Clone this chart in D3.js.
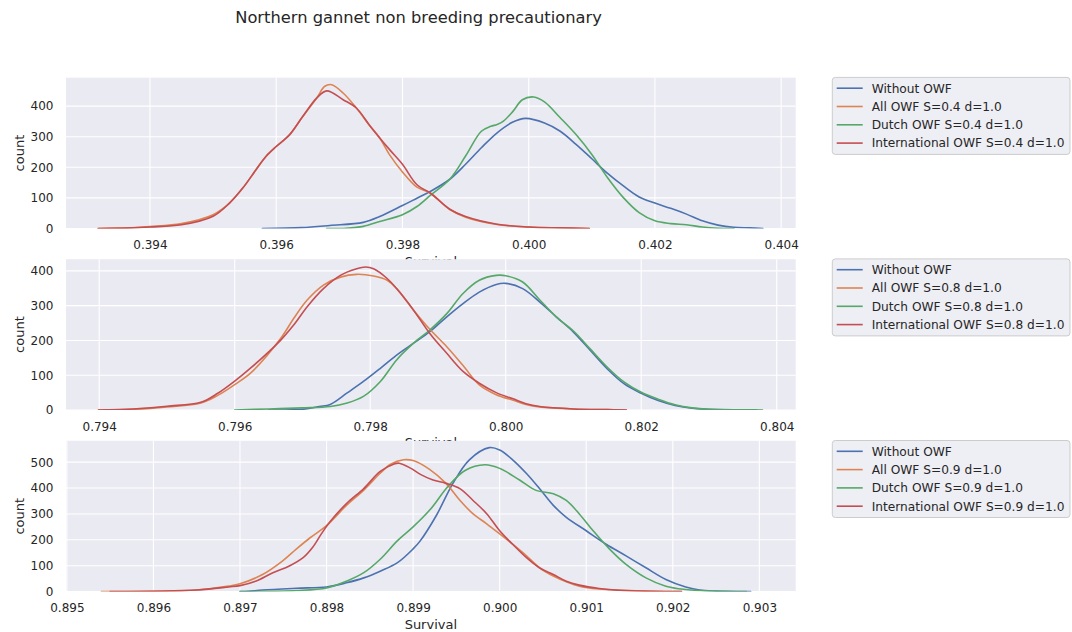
<!DOCTYPE html>
<html><head><meta charset="utf-8">
<script src="https://cdn.jsdelivr.net/npm/d3@7"></script>
<style>
body{margin:0;background:#fff}
svg{display:block}
text{font-family:"DejaVu Sans",sans-serif;fill:#262626}
</style>
</head><body><svg id="c" width="1072" height="632"></svg>
<script>
// ---------- data ----------
const chartTitle = "Northern gannet non breeding precautionary";
const seriesColors = ["#4C72B0", "#DD8452", "#55A868", "#C44E52"];
const legendLabels1 = ["Without OWF", "All OWF S=0.4 d=1.0", "Dutch OWF S=0.4 d=1.0", "International OWF S=0.4 d=1.0"];
const legendLabels2 = ["Without OWF", "All OWF S=0.8 d=1.0", "Dutch OWF S=0.8 d=1.0", "International OWF S=0.8 d=1.0"];
const legendLabels3 = ["Without OWF", "All OWF S=0.9 d=1.0", "Dutch OWF S=0.9 d=1.0", "International OWF S=0.9 d=1.0"];
const xTicks1 = [0.394, 0.396, 0.398, 0.400, 0.402, 0.404];
const xTicks2 = [0.794, 0.796, 0.798, 0.800, 0.802, 0.804];
const xTicks3 = [0.895, 0.896, 0.897, 0.898, 0.899, 0.900, 0.901, 0.902, 0.903];
const yTicks1 = [0, 100, 200, 300, 400];
const yTicks2 = [0, 100, 200, 300, 400];
const yTicks3 = [0, 100, 200, 300, 400, 500];
const xDomain1 = [0.39267, 0.40423];
const xDomain2 = [0.79351, 0.80428];
const xDomain3 = [0.89499, 0.90342];
const yDomain1 = [0, 493];
const yDomain2 = [0, 433.5];
const yDomain3 = [0, 582.5];

// panel 1 (S=0.4): [survival, count]
const p1Without = [[0.39578,0],[0.3964,3],[0.39685,10],[0.39738,20],[0.39764,39],[0.398,75],[0.39823,99],[0.39844,121],[0.39875,161],[0.399,210],[0.39925,264],[0.3995,313],[0.39975,348],[0.39995,360],[0.40025,345],[0.4005,318],[0.40075,275],[0.401,228],[0.40125,180],[0.4015,139],[0.40175,103],[0.402,83],[0.40225,66],[0.4025,47],[0.40275,25],[0.403,11],[0.40325,4],[0.4035,2],[0.40371,0]];
const p1All = [[0.39318,0],[0.3937,2],[0.394,6],[0.3945,16],[0.395,45],[0.39526,83],[0.39547,132],[0.39568,192],[0.39584,236],[0.396,268],[0.39621,306],[0.39642,366],[0.39664,426],[0.39677,465],[0.39688,470],[0.39706,443],[0.39727,394],[0.39749,334],[0.39764,296],[0.3978,240],[0.398,185],[0.39823,135],[0.39844,116],[0.39875,62],[0.399,37],[0.3995,13],[0.400,5],[0.4005,2],[0.40096,0]];
const p1Dutch = [[0.3968,0],[0.39711,1],[0.39738,7],[0.39764,23],[0.398,45],[0.39823,72],[0.39844,108],[0.39875,161],[0.399,237],[0.39925,318],[0.3994,334],[0.3995,340],[0.3996,351],[0.39975,383],[0.3999,421],[0.40008,430],[0.40025,414],[0.4005,362],[0.40075,307],[0.401,242],[0.40125,166],[0.4015,101],[0.40175,52],[0.402,25],[0.40225,16],[0.4025,12],[0.40275,5],[0.403,1],[0.40325,0]];
const p1Intl = [[0.39318,0],[0.3937,2],[0.394,5],[0.3945,12],[0.395,40],[0.39526,83],[0.39547,132],[0.39568,192],[0.39584,236],[0.396,268],[0.39621,306],[0.39642,366],[0.39664,426],[0.3968,450],[0.39706,421],[0.39727,394],[0.39749,334],[0.39764,296],[0.3978,257],[0.398,210],[0.39823,143],[0.39844,116],[0.39875,63],[0.399,39],[0.3995,14],[0.400,5],[0.4005,2],[0.40096,0]];

// panel 2 (S=0.8)
const p2Without = [[0.7965,0],[0.797,2],[0.79725,10],[0.79741,16],[0.79766,49],[0.7979,82],[0.79815,120],[0.79839,158],[0.79864,192],[0.79888,225],[0.79913,268],[0.79937,306],[0.79961,339],[0.79986,361],[0.800,364],[0.80025,349],[0.8005,311],[0.80075,267],[0.801,224],[0.80125,171],[0.8015,118],[0.80175,75],[0.802,48],[0.80225,27],[0.8025,13],[0.80275,5],[0.803,2],[0.8035,0.5],[0.8037,0]];
const p2All = [[0.79399,0],[0.7945,2],[0.795,9],[0.7955,20],[0.79575,42],[0.796,73],[0.79625,109],[0.79668,206],[0.79687,263],[0.79707,316],[0.79731,359],[0.79756,382],[0.7978,390],[0.79805,385],[0.79825,373],[0.79839,349],[0.79864,287],[0.79888,232],[0.79913,182],[0.79937,128],[0.79961,72],[0.79986,44],[0.80011,28],[0.8003,16],[0.8005,9],[0.801,3],[0.8015,1],[0.80178,0]];
const p2Dutch = [[0.796,0],[0.7965,3],[0.797,6],[0.79741,10],[0.79766,20],[0.7979,39],[0.79815,82],[0.79839,144],[0.79864,192],[0.79888,230],[0.79913,277],[0.79937,335],[0.79961,373],[0.79986,387],[0.800,386],[0.80025,368],[0.8005,317],[0.80075,267],[0.801,227],[0.80125,175],[0.8015,123],[0.80175,80],[0.802,51],[0.80225,31],[0.8025,15],[0.80275,6],[0.803,2],[0.8035,0.5],[0.80379,0]];
const p2Intl = [[0.79399,0],[0.7945,3],[0.795,11],[0.7955,22],[0.79575,48],[0.796,83],[0.79625,123],[0.79668,201],[0.79687,244],[0.79707,297],[0.79731,349],[0.79756,387],[0.7978,406],[0.79793,411],[0.79805,406],[0.79825,378],[0.79839,349],[0.79864,287],[0.79888,220],[0.79913,163],[0.79937,111],[0.79961,77],[0.79986,50],[0.80011,32],[0.8003,18],[0.8005,10],[0.801,3],[0.8015,1],[0.80178,0]];

// panel 3 (S=0.9)
const p3Without = [[0.897,0],[0.8971,1],[0.89726,6],[0.89765,13],[0.898,18],[0.89823,34],[0.89843,53],[0.89862,79],[0.89882,112],[0.899,165],[0.89908,195],[0.89927,295],[0.89946,418],[0.89965,509],[0.89988,556],[0.900,547],[0.90015,509],[0.90031,456],[0.90046,398],[0.90062,333],[0.90077,287],[0.901,235],[0.90123,183],[0.90146,138],[0.90169,92],[0.90192,47],[0.90215,18],[0.90231,6],[0.9025,2],[0.9029,0]];
const p3All = [[0.8954,0],[0.896,1],[0.8965,6],[0.89687,21],[0.897,30],[0.89726,66],[0.89749,118],[0.89765,164],[0.89781,208],[0.898,255],[0.89823,333],[0.89843,392],[0.89862,457],[0.89874,492],[0.89889,509],[0.899,506],[0.89919,472],[0.89938,418],[0.89954,353],[0.89969,301],[0.89985,262],[0.900,223],[0.90015,183],[0.90031,138],[0.90046,92],[0.90062,60],[0.90077,38],[0.90092,21],[0.90115,10],[0.9014,5],[0.90177,1],[0.9021,0]];
const p3Dutch = [[0.897,0],[0.89765,4],[0.898,14],[0.89823,40],[0.89843,73],[0.89862,125],[0.89882,197],[0.899,250],[0.8992,318],[0.8994,405],[0.8996,468],[0.89983,490],[0.900,476],[0.90023,431],[0.90042,391],[0.90062,378],[0.90077,352],[0.90092,300],[0.90108,235],[0.90127,164],[0.90146,105],[0.90169,53],[0.90192,21],[0.90215,8],[0.90231,4],[0.9026,1],[0.90285,0]];
const p3Intl = [[0.8955,0],[0.8965,6],[0.89687,18],[0.897,23],[0.89718,40],[0.89738,73],[0.89757,99],[0.89773,131],[0.89784,171],[0.89794,223],[0.89804,270],[0.89823,340],[0.89843,398],[0.89862,464],[0.89878,493],[0.89884,496],[0.89897,477],[0.89909,452],[0.89923,431],[0.89938,418],[0.89954,398],[0.89969,353],[0.89985,301],[0.900,235],[0.90015,183],[0.90031,131],[0.90046,92],[0.90062,66],[0.90077,40],[0.90092,25],[0.90115,12],[0.90138,5],[0.90177,1],[0.9021,0]];

// ---------- layout ----------
const svg = d3.select("#c");
const plotLeft = 66, plotRight = 795.7, plotH = 150.8;
const panels = [
  {top: 77.7, xDomain: xDomain1, yDomain: yDomain1, xTicks: xTicks1, yTicks: yTicks1, series: [p1Without, p1All, p1Dutch, p1Intl], labels: legendLabels1},
  {top: 259.2, xDomain: xDomain2, yDomain: yDomain2, xTicks: xTicks2, yTicks: yTicks2, series: [p2Without, p2All, p2Dutch, p2Intl], labels: legendLabels2},
  {top: 440.8, xDomain: xDomain3, yDomain: yDomain3, xTicks: xTicks3, yTicks: yTicks3, series: [p3Without, p3All, p3Dutch, p3Intl], labels: legendLabels3}
];

svg.append("text").attr("x", 418.5).attr("y", 23).attr("text-anchor", "middle")
  .style("font-size", "16.3px").text(chartTitle);

panels.forEach((p, i) => {
  const bottom = p.top + plotH;
  const x = d3.scaleLinear().domain(p.xDomain).range([plotLeft, plotRight]);
  const y = d3.scaleLinear().domain(p.yDomain).range([bottom, p.top]);
  const g = svg.append("g");
  g.append("rect").attr("x", plotLeft).attr("y", p.top).attr("width", plotRight - plotLeft)
    .attr("height", plotH).attr("fill", "#EAEAF2");
  // grid
  g.append("g").selectAll("line").data(p.xTicks).join("line")
    .attr("x1", d => x(d)).attr("x2", d => x(d)).attr("y1", p.top).attr("y2", bottom)
    .attr("stroke", "#fff").attr("stroke-width", 1.1);
  g.append("g").selectAll("line").data(p.yTicks).join("line")
    .attr("x1", plotLeft).attr("x2", plotRight).attr("y1", d => y(d)).attr("y2", d => y(d))
    .attr("stroke", "#fff").attr("stroke-width", 1.1);
  // axes
  const xa = g.append("g").attr("transform", `translate(0,${bottom})`)
    .call(d3.axisBottom(x).tickValues(p.xTicks).tickFormat(d3.format(".3f")).tickSize(0).tickPadding(12.3));
  const ya = g.append("g").attr("transform", `translate(${plotLeft},0)`)
    .call(d3.axisLeft(y).tickValues(p.yTicks).tickFormat(d3.format("d")).tickSize(0).tickPadding(12.5));
  [xa, ya].forEach(a => {
    a.select(".domain").remove();
    a.selectAll("text").style("font-size", "12px").style("font-family", "DejaVu Sans, sans-serif").attr("fill", "#262626");
  });
  // clip
  const cid = "clip" + i;
  svg.append("clipPath").attr("id", cid).append("rect")
    .attr("x", plotLeft).attr("y", p.top).attr("width", plotRight - plotLeft).attr("height", plotH);
  const line = d3.line().x(d => x(d[0])).y(d => y(d[1])).curve(d3.curveCatmullRom.alpha(0.5));
  g.append("g").attr("clip-path", `url(#${cid})`).selectAll("path").data(p.series).join("path")
    .attr("d", d => line(d)).attr("fill", "none")
    .attr("stroke", (d, k) => seriesColors[k]).attr("stroke-width", 1.6)
    .attr("stroke-linejoin", "round").attr("stroke-linecap", "round");
  // axis labels
  g.append("text").attr("transform", `translate(24,${p.top + plotH / 2}) rotate(-90)`)
    .attr("text-anchor", "middle").style("font-size", "13px").text("count");
  g.append("text").attr("x", (plotLeft + plotRight) / 2).attr("y", bottom + 37)
    .attr("text-anchor", "middle").style("font-size", "13px").text("Survival");
  // legend
  const lg = g.append("g").attr("transform", `translate(832.3,${p.top - 0.3})`);
  lg.append("rect").attr("width", 237.7).attr("height", 77).attr("rx", 3)
    .attr("fill", "#EEEEF5").attr("stroke", "#CCCCCC").attr("stroke-width", 1);
  p.labels.forEach((lab, k) => {
    const yy = 10.8 + k * 18.3;
    lg.append("line").attr("x1", 4.4).attr("x2", 30.4).attr("y1", yy).attr("y2", yy)
      .attr("stroke", seriesColors[k]).attr("stroke-width", 1.6);
    lg.append("text").attr("x", 39.4).attr("y", yy).attr("dy", "0.36em")
      .style("font-size", "12.2px").text(lab);
  });
});
</script>
</body></html>
